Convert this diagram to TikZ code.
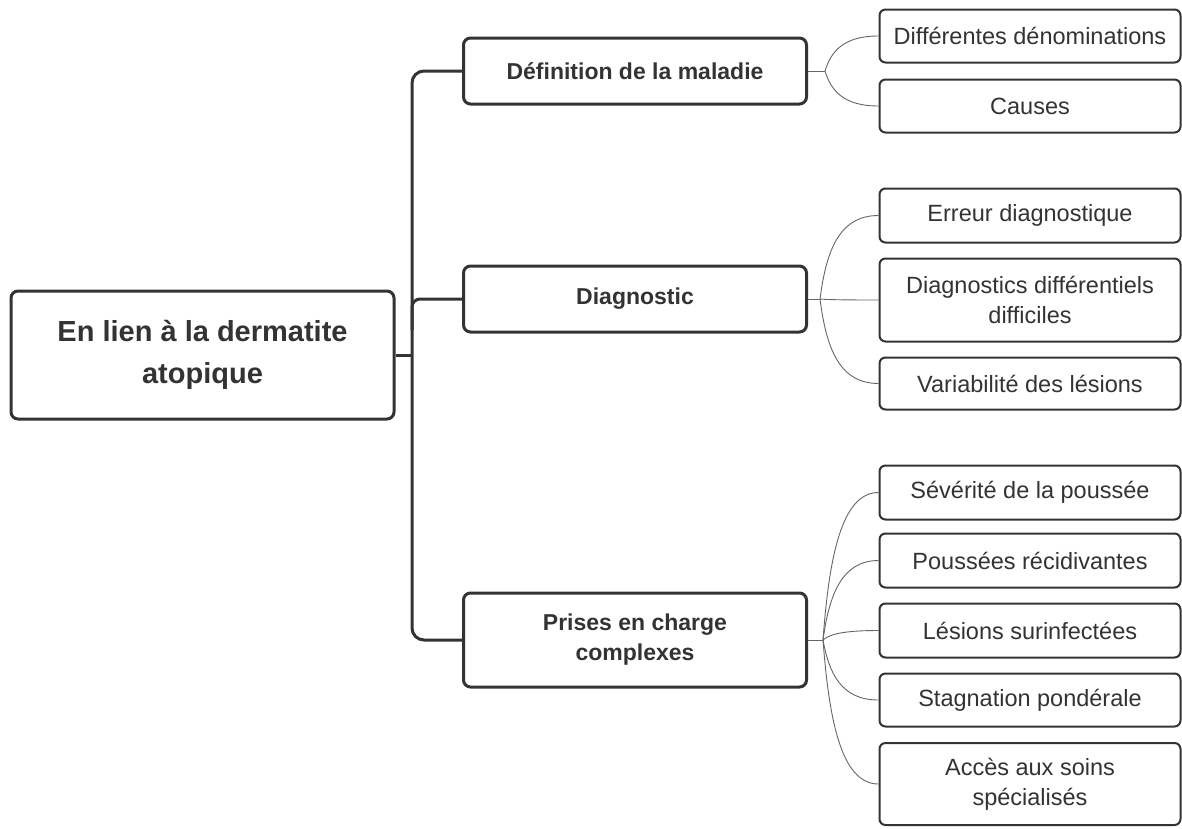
\documentclass[tikz,border=0pt]{standalone}
\usepackage{fontspec}
\setmainfont{Liberation Sans}
\usetikzlibrary{calc}
\definecolor{ink}{HTML}{333333}
\definecolor{wire}{HTML}{666666}
\newcommand\linkto[2]{\draw[conn] let \p1=(#1), \p2=(#2.west) in (\p1) .. controls (\x1+6pt,{\y1+0.55*(\y2-\y1)}) and (\x1+18pt,\y2) .. (\p2);}
\begin{document}
\begin{tikzpicture}[x=1pt,y=-1pt,
  rootbox/.style={draw=ink,line width=3pt,rounded corners=7pt,text=ink,align=center,font=\fontsize{29}{42}\selectfont\bfseries,inner sep=0pt},
  mainbox/.style={draw=ink,line width=3pt,rounded corners=7pt,text=ink,align=center,font=\fontsize{23}{30}\selectfont\bfseries,inner sep=0pt,minimum width=343pt},
  leafbox/.style={draw=ink,line width=2pt,rounded corners=6pt,text=ink,align=center,font=\fontsize{23.5}{30}\selectfont,inner sep=0pt,minimum width=301pt},
  trunk/.style={draw=ink,line width=3pt},
  conn/.style={draw=wire,line width=0.9pt}]
\useasboundingbox[fill=white] (0,0) rectangle (1182,828);

% root
\node[rootbox,minimum width=383pt,minimum height=128pt] (root) at (202.5,355) {En lien à la dermatite\\atopique};

% main boxes
\node[mainbox,minimum height=66pt] (def) at (635,71) {Définition de la maladie};
\node[mainbox,minimum height=66pt] (diag) at (635,299) {Diagnostic};
\node[mainbox,minimum height=94pt] (pec) at (635,640) {Prises en charge\\complexes};

% trunk
\coordinate (tk) at (412,355);
\coordinate (tkd) at (412,330);
\draw[trunk] (root.east) -- (tk);
\draw[trunk,rounded corners=12pt] (def.west) -| (tk) |- (pec.west);
\draw[trunk,rounded corners=8pt] (diag.west) -| (tkd);

% leaves
\node[leafbox,minimum height=53pt] (l1) at (1030,36) {Différentes dénominations};
\node[leafbox,minimum height=53pt] (l2) at (1030,106) {Causes};
\node[leafbox,minimum height=54pt] (l3) at (1030,215.5) {Erreur diagnostique};
\node[leafbox,minimum height=83pt] (l4) at (1030,300) {Diagnostics différentiels\\difficiles};
\node[leafbox,minimum height=52pt] (l5) at (1030,383.5) {Variabilité des lésions};
\node[leafbox,minimum height=54pt] (l6) at (1030,492.5) {Sévérité de la poussée};
\node[leafbox,minimum height=54pt] (l7) at (1030,560.5) {Poussées récidivantes};
\node[leafbox,minimum height=54pt] (l8) at (1030,630.5) {Lésions surinfectées};
\node[leafbox,minimum height=53pt] (l9) at (1030,700) {Stagnation pondérale};
\node[leafbox,minimum height=82pt] (l10) at (1030,784) {Accès aux soins\\spécialisés};

% branch points
\coordinate (bdef) at (825,71);
\coordinate (bdiag) at (820,299);
\coordinate (bpec) at (823,640);

\draw[conn] (def.east) -- (bdef);
\draw[conn] (diag.east) -- (bdiag);
\draw[conn] (pec.east) -- (bpec);

\linkto{bdef}{l1}
\linkto{bdef}{l2}
\linkto{bdiag}{l3}
\linkto{bdiag}{l4}
\linkto{bdiag}{l5}
\linkto{bpec}{l6}
\linkto{bpec}{l7}
\linkto{bpec}{l8}
\linkto{bpec}{l9}
\linkto{bpec}{l10}
\end{tikzpicture}
\end{document}
